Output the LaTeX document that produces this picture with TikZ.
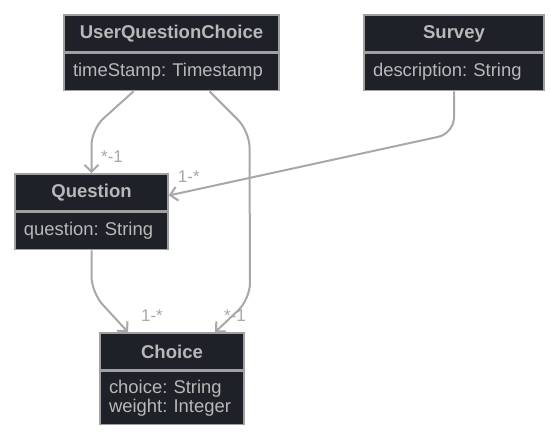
\documentclass[tikz,border=0pt]{standalone}
\usepackage{fontspec}
\setmainfont{Liberation Sans}
\usetikzlibrary{calc,arrows.meta}
\definecolor{boxfill}{HTML}{1F2129}
\definecolor{boxline}{HTML}{A0A0A0}
\definecolor{boxtext}{HTML}{B8B8B8}
\definecolor{connline}{HTML}{A8A8A8}
\frenchspacing
\tikzset{
	classhead/.style={draw=boxline, line width=1.6bp, fill=boxfill, text=boxtext, font=\fontsize{18.6}{20}\selectfont\bfseries, minimum height=37bp, inner sep=0pt},
	classbody/.style={draw=boxline, line width=1.6bp, fill=boxfill, text=boxtext, font=\fontsize{18.5}{19}\selectfont, minimum height=37bp, inner xsep=9bp, inner ysep=0pt, align=left, anchor=north},
	assoc/.style={draw=connline, line width=2bp, rounded corners=16bp, -{Straight Barb[length=7bp, width=14bp, line width=2bp]}},
	mult/.style={text=connline, font=\fontsize{17}{18}\selectfont, inner sep=0pt}
}

\begin{document}
\begin{tikzpicture}[x=1bp, y=-1bp]
			%%%%% START %%%%%
			\useasboundingbox[fill=white] (0, 0) rectangle (551, 440);
			
			\node[classhead, minimum width=215bp] (uqc) at (171.5, 33.5) {UserQuestionChoice};
			\node[classbody, text width=197bp] (uqc-body) at (uqc.south) {timeStamp: Timestamp};
			
			\node[classhead, minimum width=180bp] (survey) at (454, 33.5) {Survey};
			\node[classbody, text width=162bp] (survey-body) at (survey.south) {description: String};
			
			\node[classhead, minimum width=153bp] (question) at (91.5, 192.5) {Question};
			\node[classbody, text width=135bp] (question-body) at (question.south) {question: String};
			
			\node[classhead, minimum width=144bp] (choice) at (172, 351.5) {Choice};
			\node[classbody, text width=126bp, minimum height=53bp] (choice-body) at (choice.south) {choice: String\\weight: Integer};
			
			% associations
			\draw[assoc] ([xshift=-38bp]uqc-body.south) -- ($(question.north)+(0, -44)$) -- (question.north);
			\draw[assoc] ([xshift=38bp]uqc-body.south) -- ($(uqc-body.south)+(78, 40)$) -- ($(choice.north)+(78, -33)$) -- ([xshift=43bp]choice.north);
			\draw[assoc] (survey-body.south) -- ++(0, 42) -- ([yshift=-3bp]question.east);
			\draw[assoc] (question-body.south) -- ++(0, 42) -- ([xshift=-44bp]choice.north);
			
			\node[mult] at ($(question.north)+(20.5, -17)$) {*-1};
			\node[mult] at ($(choice.north)+(63, -17)$) {*-1};
			\node[mult] at ($(question.east)+(20, -15.5)$) {1-*};
			\node[mult] at ($(choice.north)+(-20, -17)$) {1-*};
			
			%%%%% END %%%%%
\end{tikzpicture}
\end{document}
